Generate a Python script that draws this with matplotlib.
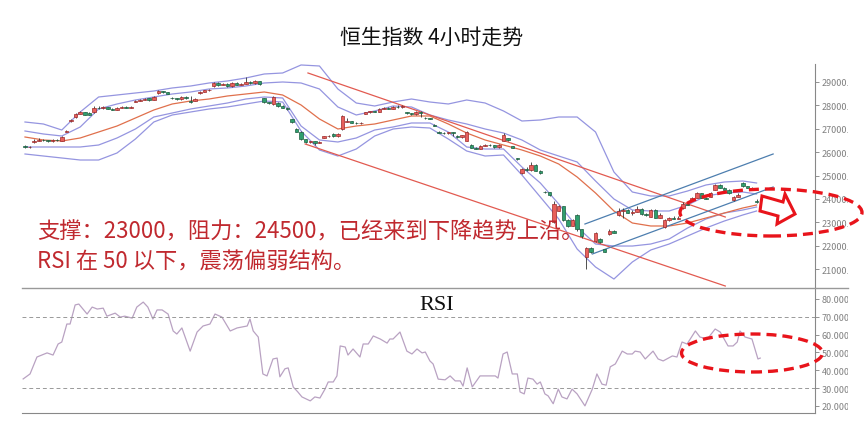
import matplotlib.pyplot as plt
from matplotlib.patches import Rectangle, Ellipse, Polygon
from matplotlib.lines import Line2D
from matplotlib.transforms import Bbox, TransformedBbox

# ---- data ----
opens = [26280, 26220, 26420, 26480, 26520, 26500, 26460, 26540, 26480, 26880,
         27330, 27500, 27640, 27700, 27680, 27700, 27900, 27880, 27910, 27860,
         27820, 27900, 27950, 27890, 28150, 28200, 28240, 28300, 28230, 28520,
         28600, 28560, 28330, 28300, 28260, 28380, 28200, 28200, 28520, 28590,
         28640, 28830, 28960, 28880, 28920, 28820, 28960, 28880, 28920, 29020,
         28940, 29040, 28300, 28130, 28050, 28100, 27980, 27900, 27400, 27000,
         26880, 26560, 26440, 26460, 26400, 26620, 26680, 26780, 26680, 26990,
         27300, 27330, 27260, 27230, 27650, 27700, 27740, 27720, 27860, 27900,
         27860, 27930, 27920, 27700, 27660, 27630, 27720, 27480, 27440, 27180,
         26880, 26830, 26810, 26860, 26700, 26640, 26480, 26300, 26200, 26150,
         26280, 26320, 26290, 26220, 26480, 26600, 26250, 25750, 25100, 25300,
         25230, 25450, 25200, 24300, 24280, 23000, 23500, 23700, 23100, 22850,
         23300, 22700, 21500, 21900, 22200, 22300, 21850, 22500, 22650, 23300,
         23500, 23550, 23400, 23460, 23580, 23350, 23250, 23550, 23200, 22800,
         23100, 23200, 23160, 23600, 23800, 23950, 24050, 24250, 24050, 24100,
         24400, 24600, 24470, 24400, 23950, 24100, 24700, 24550, 24470, 23900]
closes = [26220, 26240, 26480, 26520, 26500, 26460, 26540, 26500, 26660, 26920,
          27380, 27640, 27700, 27610, 27600, 27900, 27880, 27910, 27860, 27820,
          27880, 27950, 27890, 27930, 28200, 28240, 28280, 28230, 28380, 28600,
          28560, 28500, 28300, 28260, 28380, 28300, 28130, 28290, 28590, 28640,
          28660, 28960, 28880, 28920, 28820, 28960, 28880, 28900, 29020, 28940,
          29040, 28900, 28130, 28100, 28380, 27980, 27900, 27830, 27300, 26880,
          26560, 26440, 26460, 26400, 26450, 26680, 26700, 26680, 26780, 27550,
          27330, 27260, 27230, 27260, 27700, 27740, 27720, 27860, 27900, 27860,
          27930, 27920, 27970, 27660, 27630, 27720, 27680, 27440, 27420, 27140,
          26830, 26810, 26860, 26800, 26640, 26720, 26860, 26200, 26150, 26280,
          26320, 26290, 26220, 26310, 26750, 26500, 26180, 25700, 25300, 25230,
          25470, 25200, 25100, 24280, 24150, 23800, 23700, 23100, 22850, 23100,
          22700, 22400, 21900, 21750, 22550, 22150, 21750, 22650, 22560, 23500,
          23550, 23400, 23460, 23580, 23350, 23300, 23550, 23200, 23300, 23100,
          23200, 23160, 23200, 23800, 23760, 24050, 24250, 24050, 24000, 24250,
          24600, 24470, 24400, 24250, 24100, 24150, 24550, 24470, 24420, 23850]
highs = [26300, 26280, 26560, 26600, 26560, 26530, 26580, 26570, 26700, 26960,
         27420, 27680, 27740, 27730, 27700, 27960, 27990, 27980, 27940, 27880,
         27910, 27990, 27970, 27960, 28230, 28270, 28300, 28320, 28410, 28640,
         28630, 28580, 28360, 28320, 28400, 28400, 28400, 28320, 28620, 28670,
         28700, 28990, 28990, 28960, 28940, 29000, 28990, 28940, 29200, 29050,
         29070, 29060, 28330, 28160, 28420, 28130, 28000, 27930, 27420, 27030,
         26900, 26580, 26490, 26480, 26480, 26700, 26730, 26800, 26800, 27580,
         27450, 27350, 27280, 27290, 27730, 27770, 27760, 27890, 27930, 27930,
         27960, 28000, 28010, 27720, 27680, 27750, 27740, 27500, 27460, 27200,
         26900, 26850, 26880, 26880, 26720, 26740, 26900, 26330, 26230, 26310,
         26350, 26370, 26320, 26340, 26800, 26620, 26270, 25770, 25340, 25350,
         25600, 25480, 25220, 24330, 24300, 23900, 23750, 23720, 23130, 23150,
         23350, 22720, 21950, 21950, 22600, 22320, 21870, 22700, 22680, 23600,
         23600, 23570, 23520, 23700, 23600, 23380, 23580, 23580, 23400, 23150,
         23250, 23280, 23280, 23850, 23830, 24080, 24280, 24270, 24070, 24300,
         24650, 24620, 24500, 24420, 24130, 24250, 24730, 24570, 24500, 24000]
lows = [26180, 26190, 26400, 26460, 26470, 26430, 26440, 26480, 26460, 26850,
        27300, 27480, 27620, 27580, 27570, 27680, 27830, 27850, 27830, 27790,
        27800, 27880, 27870, 27880, 28130, 28180, 28210, 28200, 28210, 28500,
        28530, 28470, 28270, 28230, 28240, 28280, 28100, 28180, 28500, 28570,
        28620, 28800, 28850, 28860, 28800, 28800, 28860, 28860, 28900, 28920,
        28920, 28880, 28100, 28070, 28030, 27950, 27880, 27800, 27250, 26850,
        26530, 26400, 26410, 26300, 26380, 26600, 26660, 26660, 26660, 26960,
        27280, 27240, 27200, 27210, 27630, 27680, 27700, 27700, 27840, 27840,
        27850, 27900, 27900, 27640, 27610, 27610, 27500, 27420, 27400, 27120,
        26810, 26790, 26790, 26700, 26620, 26620, 26460, 26170, 26120, 26130,
        26260, 26270, 26200, 26200, 26460, 26480, 26160, 25680, 25080, 25200,
        25200, 25180, 25050, 24250, 24120, 22980, 23480, 23050, 22820, 22830,
        22650, 22350, 21000, 21700, 22180, 22100, 21720, 22480, 22540, 23280,
        23200, 23380, 23300, 23440, 23330, 23280, 23230, 23180, 23180, 22780,
        23080, 23140, 23140, 23580, 23740, 23930, 24030, 24030, 23980, 24080,
        24380, 24450, 24380, 24230, 23930, 24080, 24530, 24450, 24400, 23820]

band_idx = [0, 4, 8, 12, 16, 20, 24, 28, 32, 36, 40, 44, 48, 52, 56, 60, 64, 68, 72, 76,
            80, 84, 88, 92, 96, 100, 104, 108, 112, 116, 120, 124, 128, 132, 136, 140,
            144, 148, 152, 156, 159]
band_up2 = [27290, 27205, 26948, 27718, 28359, 28444, 28530, 28615, 28744, 28829,
            28957, 29043, 29171, 29342, 29385, 29727, 29684, 28701, 28102, 27974,
            28145, 28273, 28145, 28060, 28231, 28102, 27761, 27333, 27376, 27504,
            27504, 26863, 25153, 24299, 24128, 24128, 24341, 24598, 24726, 24769, 24684]
band_up1 = [26906, 26778, 26692, 27077, 27846, 28060, 28231, 28359, 28487, 28573,
            28701, 28744, 28829, 28957, 29000, 28957, 28701, 27932, 27590, 27761,
            27974, 27932, 27590, 27376, 27205, 26991, 26820, 26521, 26094, 25837,
            25581, 24769, 24000, 23529, 23487, 23487, 23743, 24128, 24256, 24299, 24213]
band_mid = [26649, 26521, 26478, 26607, 26863, 27119, 27461, 27803, 28060, 28188,
            28273, 28402, 28487, 28573, 28444, 28017, 27419, 26991, 27119, 27205,
            27376, 27547, 27547, 27205, 26820, 26521, 26307, 26094, 25837, 25495,
            24940, 24256, 23487, 22974, 22846, 22846, 22974, 23187, 23401, 23615, 23743]
band_lo1 = [26222, 26222, 26222, 26222, 26307, 26607, 26991, 27504, 27675, 27846,
            27974, 28102, 28273, 28359, 28316, 27119, 26521, 26436, 26607, 26948,
            27077, 27248, 27248, 26863, 26222, 26136, 26136, 25367, 24684, 23786,
            22803, 22076, 21990, 21990, 22076, 22290, 22760, 23145, 23401, 23529, 23658]
band_lo2 = [25923, 25837, 25752, 25666, 25666, 25966, 26564, 27290, 27590, 27718,
            27846, 27932, 28060, 28188, 28145, 26906, 26094, 25837, 26136, 26692,
            26991, 27077, 27034, 26564, 26051, 25837, 25880, 25025, 24085, 23145,
            21863, 21093, 20580, 21307, 21820, 22076, 22418, 22760, 23059, 23316, 23487]

# trend lines: (bar, price) end points
down_upper = ([61.5, 152.2], [29385, 23230])
down_lower = ([60.9, 152.2], [26350, 20281])
up_upper = ([121.7, 162.6], [22931, 25923])
up_lower = ([123.3, 162.6], [21649, 24512])

rsi_pos = [-0.4, 1.1, 2.6, 4.8, 6.1, 7.2, 8.0, 9.1, 9.8, 10.9, 11.7, 13.5, 14.6, 15.7,
           17.0, 17.8, 19.6, 20.7, 21.7, 23.3, 24.3, 25.7, 26.7, 27.8, 28.7, 29.8, 31.1,
           32.2, 33.0, 34.1, 35.9, 37.4, 38.7, 40.2, 41.3, 42.8, 44.6, 46.1, 48.3, 48.9,
           49.6, 50.7, 51.7, 52.6, 53.9, 54.8, 55.4, 56.5, 57.2, 58.3, 59.3, 60.2, 62.0,
           63.0, 64.1, 65.2, 65.9, 67.0, 67.8, 68.5, 69.6, 70.2, 71.3, 72.8, 73.5, 74.6,
           75.7, 77.2, 78.7, 79.3, 80.0, 81.5, 83.0, 84.1, 85.2, 86.3, 87.0, 88.0, 88.7,
           89.8, 91.3, 92.4, 93.5, 94.6, 95.2, 96.1, 97.2, 98.9, 100.4, 102.2, 102.8,
           103.9, 104.8, 105.9, 107.0, 107.6, 108.5, 109.3, 110.4, 111.3, 112.0, 113.0,
           113.7, 114.8, 115.9, 116.7, 117.8, 118.9, 120.0, 121.7, 123.3, 124.3, 125.4,
           126.3, 127.2, 128.3, 129.8, 130.9, 132.0, 132.6, 133.7, 134.8, 136.5, 137.6,
           138.7, 140.7, 141.7, 142.8, 143.9, 145.7, 146.7, 148.3, 150.0, 151.1, 152.8,
           153.9, 154.8, 155.4, 156.5, 158.0, 159.3, 159.8]
rsi_val = [35.1, 37.9, 47.4, 49.7, 48.5, 54.7, 55.8, 65.9, 65.9, 76.6, 77.1, 71.5, 75.4,
           74.3, 74.8, 70.3, 72.0, 69.8, 70.3, 69.2, 75.4, 78.2, 75.4, 68.7, 73.8, 73.8,
           71.5, 62.0, 60.3, 63.7, 50.7, 61.4, 64.8, 65.9, 71.5, 69.8, 62.0, 63.7, 64.8,
           68.7, 62.0, 58.6, 37.9, 36.8, 46.3, 46.8, 36.3, 40.8, 41.3, 30.6, 27.8, 25.0,
           22.8, 25.0, 24.4, 29.4, 33.4, 33.4, 36.8, 53.6, 53.0, 48.5, 51.9, 47.4, 54.7,
           54.7, 59.2, 57.5, 55.2, 57.5, 57.5, 61.4, 50.7, 49.1, 51.9, 49.7, 50.2, 45.2,
           43.5, 35.0, 34.6, 36.8, 34.0, 34.0, 31.1, 41.3, 30.6, 36.8, 36.8, 36.8, 35.6,
           49.1, 50.2, 37.9, 37.9, 27.8, 26.7, 35.6, 35.0, 32.2, 33.4, 26.7, 25.6, 21.2,
           29.4, 25.0, 23.9, 29.4, 26.7, 20.0, 29.4, 37.9, 32.2, 31.6, 41.9, 43.5, 50.7,
           49.1, 49.1, 50.7, 50.2, 46.3, 50.7, 46.3, 45.2, 48.0, 47.4, 55.8, 54.7, 62.0,
           58.6, 57.5, 63.1, 61.4, 53.6, 53.6, 55.8, 62.0, 58.6, 57.5, 46.3, 46.8]

price_ticks = [21000, 22000, 23000, 24000, 25000, 26000, 27000, 28000, 29000]
rsi_ticks = [20, 30, 40, 50, 60, 70, 80]

title = "恒生指数 4小时走势"
note1 = "支撑：23000，阻力：24500，已经来到下降趋势上沿。"
note2 = "RSI 在 50 以下，震荡偏弱结构。"

# ---- figure ----
plt.rcParams['font.family'] = ['Noto Sans CJK SC', 'DejaVu Sans']
W, H = 864, 431
fig = plt.figure(figsize=(W / 100, H / 100), dpi=100)


def fx(px):
    return px / W


def fy(py):
    return 1 - py / H


ax = fig.add_axes([fx(22), fy(289), fx(815) - fx(22), fy(65) - fy(289)])
ax2 = fig.add_axes([fx(22), fy(414), fx(815) - fx(22), fy(289) - fy(414)], sharex=ax)

up_col, up_edge = '#e8605c', '#9c2a2a'
dn_col, dn_edge = '#2f9e6e', '#1c5e40'
for i in range(len(closes)):
    o, c = opens[i], closes[i]
    ax.vlines(i, lows[i], highs[i], color='#333333', lw=0.6, zorder=3)
    rising = c >= o
    ax.add_patch(Rectangle((i - 0.38, min(o, c)), 0.76, max(abs(c - o), 20),
                           facecolor=up_col if rising else dn_col,
                           edgecolor=up_edge if rising else dn_edge, lw=0.5, zorder=4))

band_col = '#9595e0'
ax.plot(band_idx, band_up2, color=band_col, lw=0.9)
ax.plot(band_idx, band_up1, color=band_col, lw=0.9)
ax.plot(band_idx, band_lo1, color=band_col, lw=0.9)
ax.plot(band_idx, band_lo2, color=band_col, lw=0.9)
ax.plot(band_idx, band_mid, color='#e0704c', lw=0.9)

for xs, ys in (down_upper, down_lower):
    ax.plot(xs, ys, color='#e25a50', lw=0.9)
for xs, ys in (up_upper, up_lower):
    ax.plot(xs, ys, color='#4d7eaf', lw=0.9)

ax.set_xlim(-0.65, 171.7)
ax.set_ylim(20196, 29769)
ax.set_yticks(price_ticks)
ax.set_yticklabels(['%.2f' % v for v in price_ticks])

ax2.plot(rsi_pos, rsi_val, color='#b9a2c2', lw=0.9)
ax2.axhline(70, color='#999999', lw=0.7, dashes=(4, 3))
ax2.axhline(30, color='#999999', lw=0.7, dashes=(4, 3))
ax2.set_ylim(16.0, 86.1)
ax2.set_yticks(rsi_ticks)
ax2.set_yticklabels(['%.4f' % v for v in rsi_ticks])

for a in (ax, ax2):
    a.yaxis.tick_right()
    a.tick_params(axis='y', direction='out', length=3, width=0.6, colors='#808080',
                  labelsize=6.5, pad=2)
    a.tick_params(axis='x', bottom=False, labelbottom=False)
    a.spines['top'].set_visible(False)
    a.spines['left'].set_visible(False)
    a.spines['right'].set_color('#888888')
    a.spines['bottom'].set_color('#888888')
ax.spines['bottom'].set_visible(False)

# separator line runs past the axis into the label strip
fig.add_artist(Line2D([fx(22), fx(848)], [fy(289), fy(289)], transform=fig.transFigure,
                      color='#999999', lw=1.0))

# clip the right-hand labels like the source
clip = TransformedBbox(Bbox.from_extents(0, 0, fx(848), 1), fig.transFigure)
for a in (ax, ax2):
    for t in a.yaxis.get_major_ticks():
        t.label2.set_clip_box(clip)
        t.label2.set_clip_on(True)

fig.text(fx(432), fy(38), title, ha='center', va='center', fontsize=15, color='#111111')
fig.text(fx(437), fy(305), 'RSI', ha='center', va='center', fontsize=16,
         family='Liberation Serif', color='#111111')
fig.text(fx(37), fy(232), note1, ha='left', va='center', fontsize=16, color='#c0292f')
fig.text(fx(37), fy(262), note2, ha='left', va='center', fontsize=16, color='#c0292f')

# hand drawn red marks
red = '#e8141b'
fig.add_artist(Ellipse((fx(771), fy(213.5)), 182 / W, 47 / H, transform=fig.transFigure,
                       fill=False, edgecolor=red, lw=2.4, linestyle=(0, (3, 1.8))))
fig.add_artist(Ellipse((fx(752), fy(354)), 141 / W, 38 / H, transform=fig.transFigure,
                       fill=False, edgecolor=red, lw=2.4, linestyle=(0, (3, 1.8))))
arrow_px = [(762, 197), (783, 203), (785, 195), (795, 215), (777, 225), (778, 217), (760, 212)]
fig.add_artist(Polygon([(fx(x), fy(y)) for x, y in arrow_px], closed=True,
                       transform=fig.transFigure, facecolor='white', edgecolor=red, lw=2.2))

fig.savefig('out.png', dpi=100)
